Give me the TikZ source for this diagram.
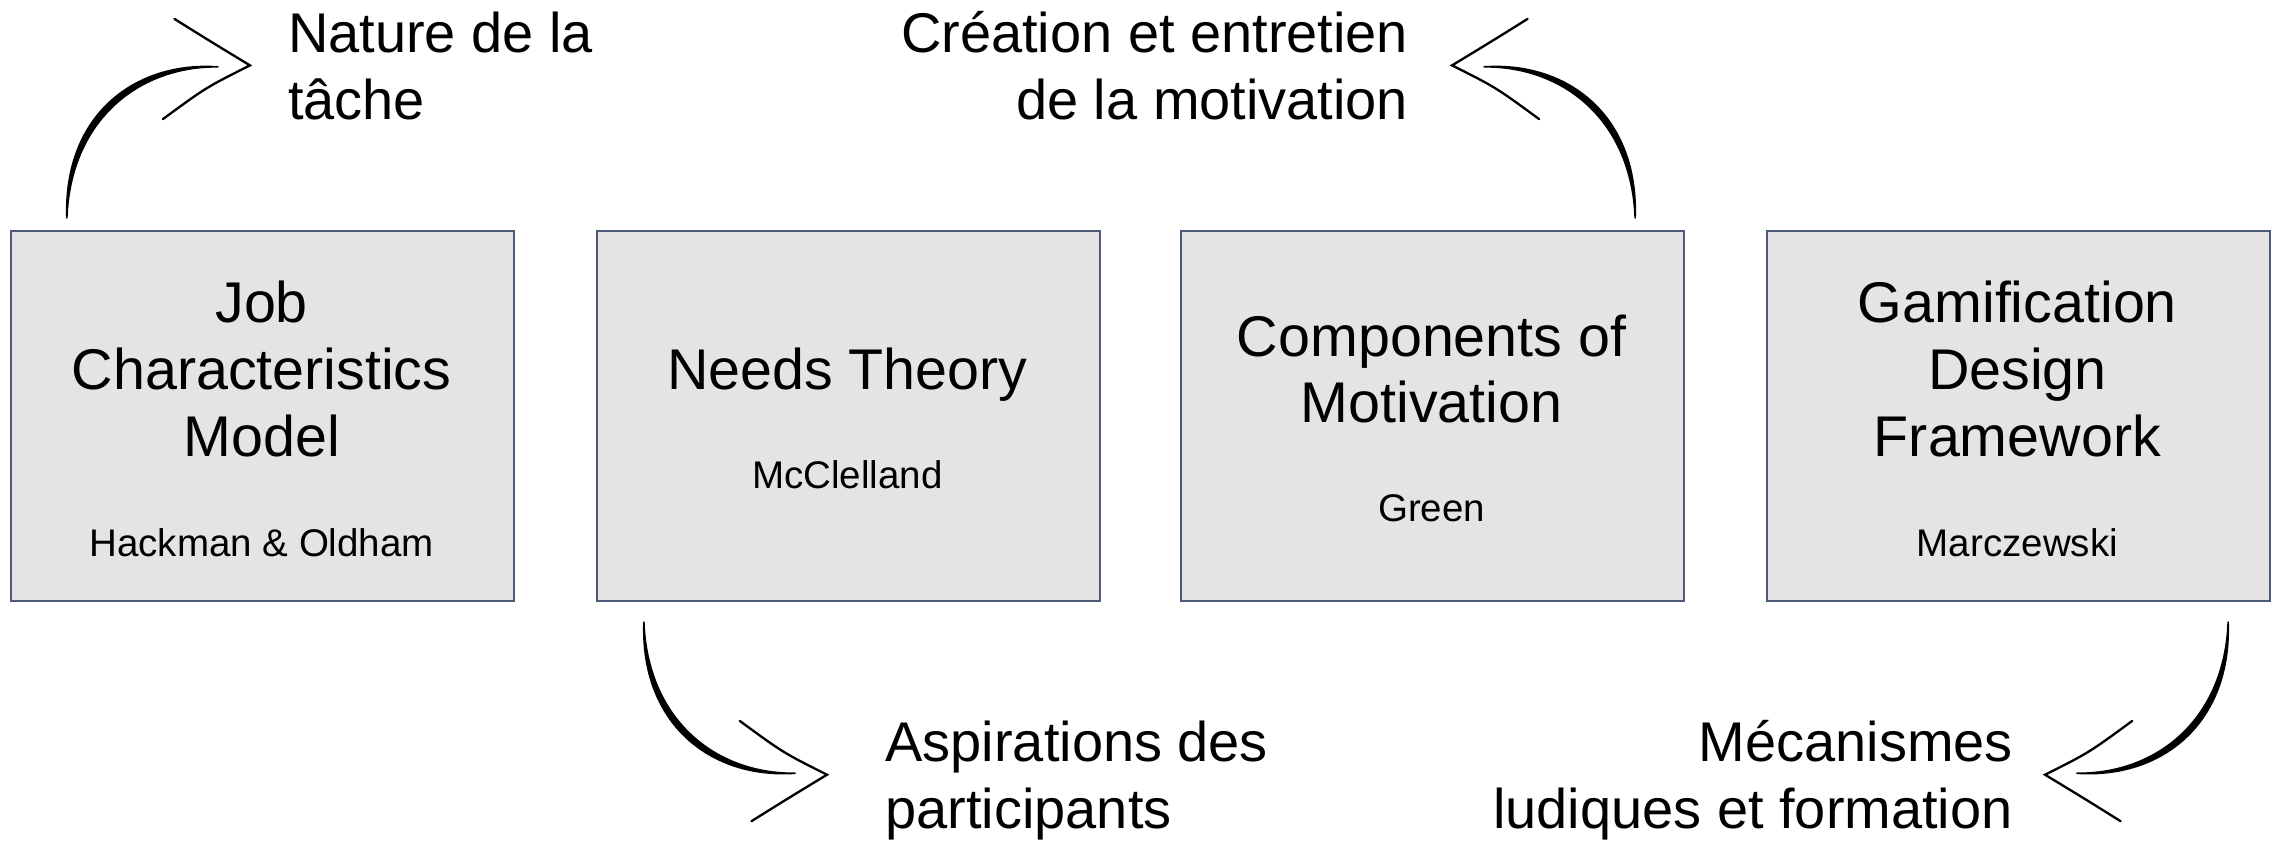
\documentclass[tikz,border=0pt]{standalone}
\usepackage{fontspec}
\setmainfont{Liberation Sans}
\definecolor{boxedge}{HTML}{4D5B78}
\definecolor{boxfill}{HTML}{E4E4E4}
% hand-drawn curved arrow: tapered shaft plus an open chevron head
\newcommand\penarrow{%
  \filldraw[stroke] (0,0) .. controls (-2.5,-70) and (46,-108) .. (104,-104)
                         .. controls (49,-104.5) and (2.5,-67) .. cycle;
  \draw[chevron] (74,-137) .. controls (98,-122) .. (126,-105)
                 .. controls (96,-90) .. (66,-68);
}
\begin{document}
\begin{tikzpicture}[x=1pt,y=-1pt,
  theory/.style={draw=boxedge, fill=boxfill, line width=1.4pt,
    minimum width=346pt, minimum height=255pt, inner sep=0pt, anchor=north west},
  title/.style={inner sep=0pt, anchor=base, font=\fontsize{39.5}{46}\selectfont},
  author/.style={inner sep=0pt, anchor=base, font=\fontsize{26.5}{32}\selectfont},
  caption/.style={inner sep=0pt, font=\fontsize{38.5}{46}\selectfont},
  stroke/.style={fill=black, draw=black, line width=1.1pt, line join=round},
  chevron/.style={draw=black, line width=1.6pt, line cap=round, line join=miter}
]
\useasboundingbox (0,0) rectangle (1568,579);

% the four theory boxes
\node[theory] (jcm)   at (7,158)    {};
\node[theory] (needs) at (410,158)  {};
\node[theory] (comp)  at (812,158)  {};
\node[theory] (gdf)   at (1215,158) {};

\node[title]  (jcm1) at (180,222) {Job};
\node[title]  (jcm2) at (180,268) {Characteristics};
\node[title]  (jcm3) at (180,314) {Model};
\node[author] (jcma) at (180,383) {Hackman \& Oldham};

\node[title]  (needs1) at (583,268) {Needs Theory};
\node[author] (needsa) at (583,336) {McClelland};

\node[title]  (comp1) at (985,245) {Components of};
\node[title]  (comp2) at (985,291) {Motivation};
\node[author] (compa) at (985,359) {Green};

\node[title]  (gdf1) at (1388,222) {Gamification};
\node[title]  (gdf2) at (1388,268) {Design};
\node[title]  (gdf3) at (1388,314) {Framework};
\node[author] (gdfa) at (1388,383) {Marczewski};

% captions
\node[caption, anchor=base west] (nat1) at (198,36)   {Nature de la};
\node[caption, anchor=base west] (nat2) at (198,82.5) {tâche};
\node[caption, anchor=base east] (cre1) at (969,36)   {Création et entretien};
\node[caption, anchor=base east] (cre2) at (969,82.5) {de la motivation};
\node[caption, anchor=base west] (asp1) at (609,524)  {Aspirations des};
\node[caption, anchor=base west] (asp2) at (609,570)  {participants};
\node[caption, anchor=base east] (mec1) at (1385,524) {Mécanismes};
\node[caption, anchor=base east] (mec2) at (1385,570) {ludiques et formation};

% arrow roots just outside the boxes
\coordinate (r1) at (46,150);
\coordinate (r2) at (1125,150);
\coordinate (r3) at (443,428);
\coordinate (r4) at (1533,428);

\begin{scope}[shift={(r1)}]                       \penarrow \end{scope}
\begin{scope}[shift={(r2)}, xscale=-1]            \penarrow \end{scope}
\begin{scope}[shift={(r3)}, yscale=-1]            \penarrow \end{scope}
\begin{scope}[shift={(r4)}, xscale=-1, yscale=-1] \penarrow \end{scope}
\end{tikzpicture}
\end{document}
